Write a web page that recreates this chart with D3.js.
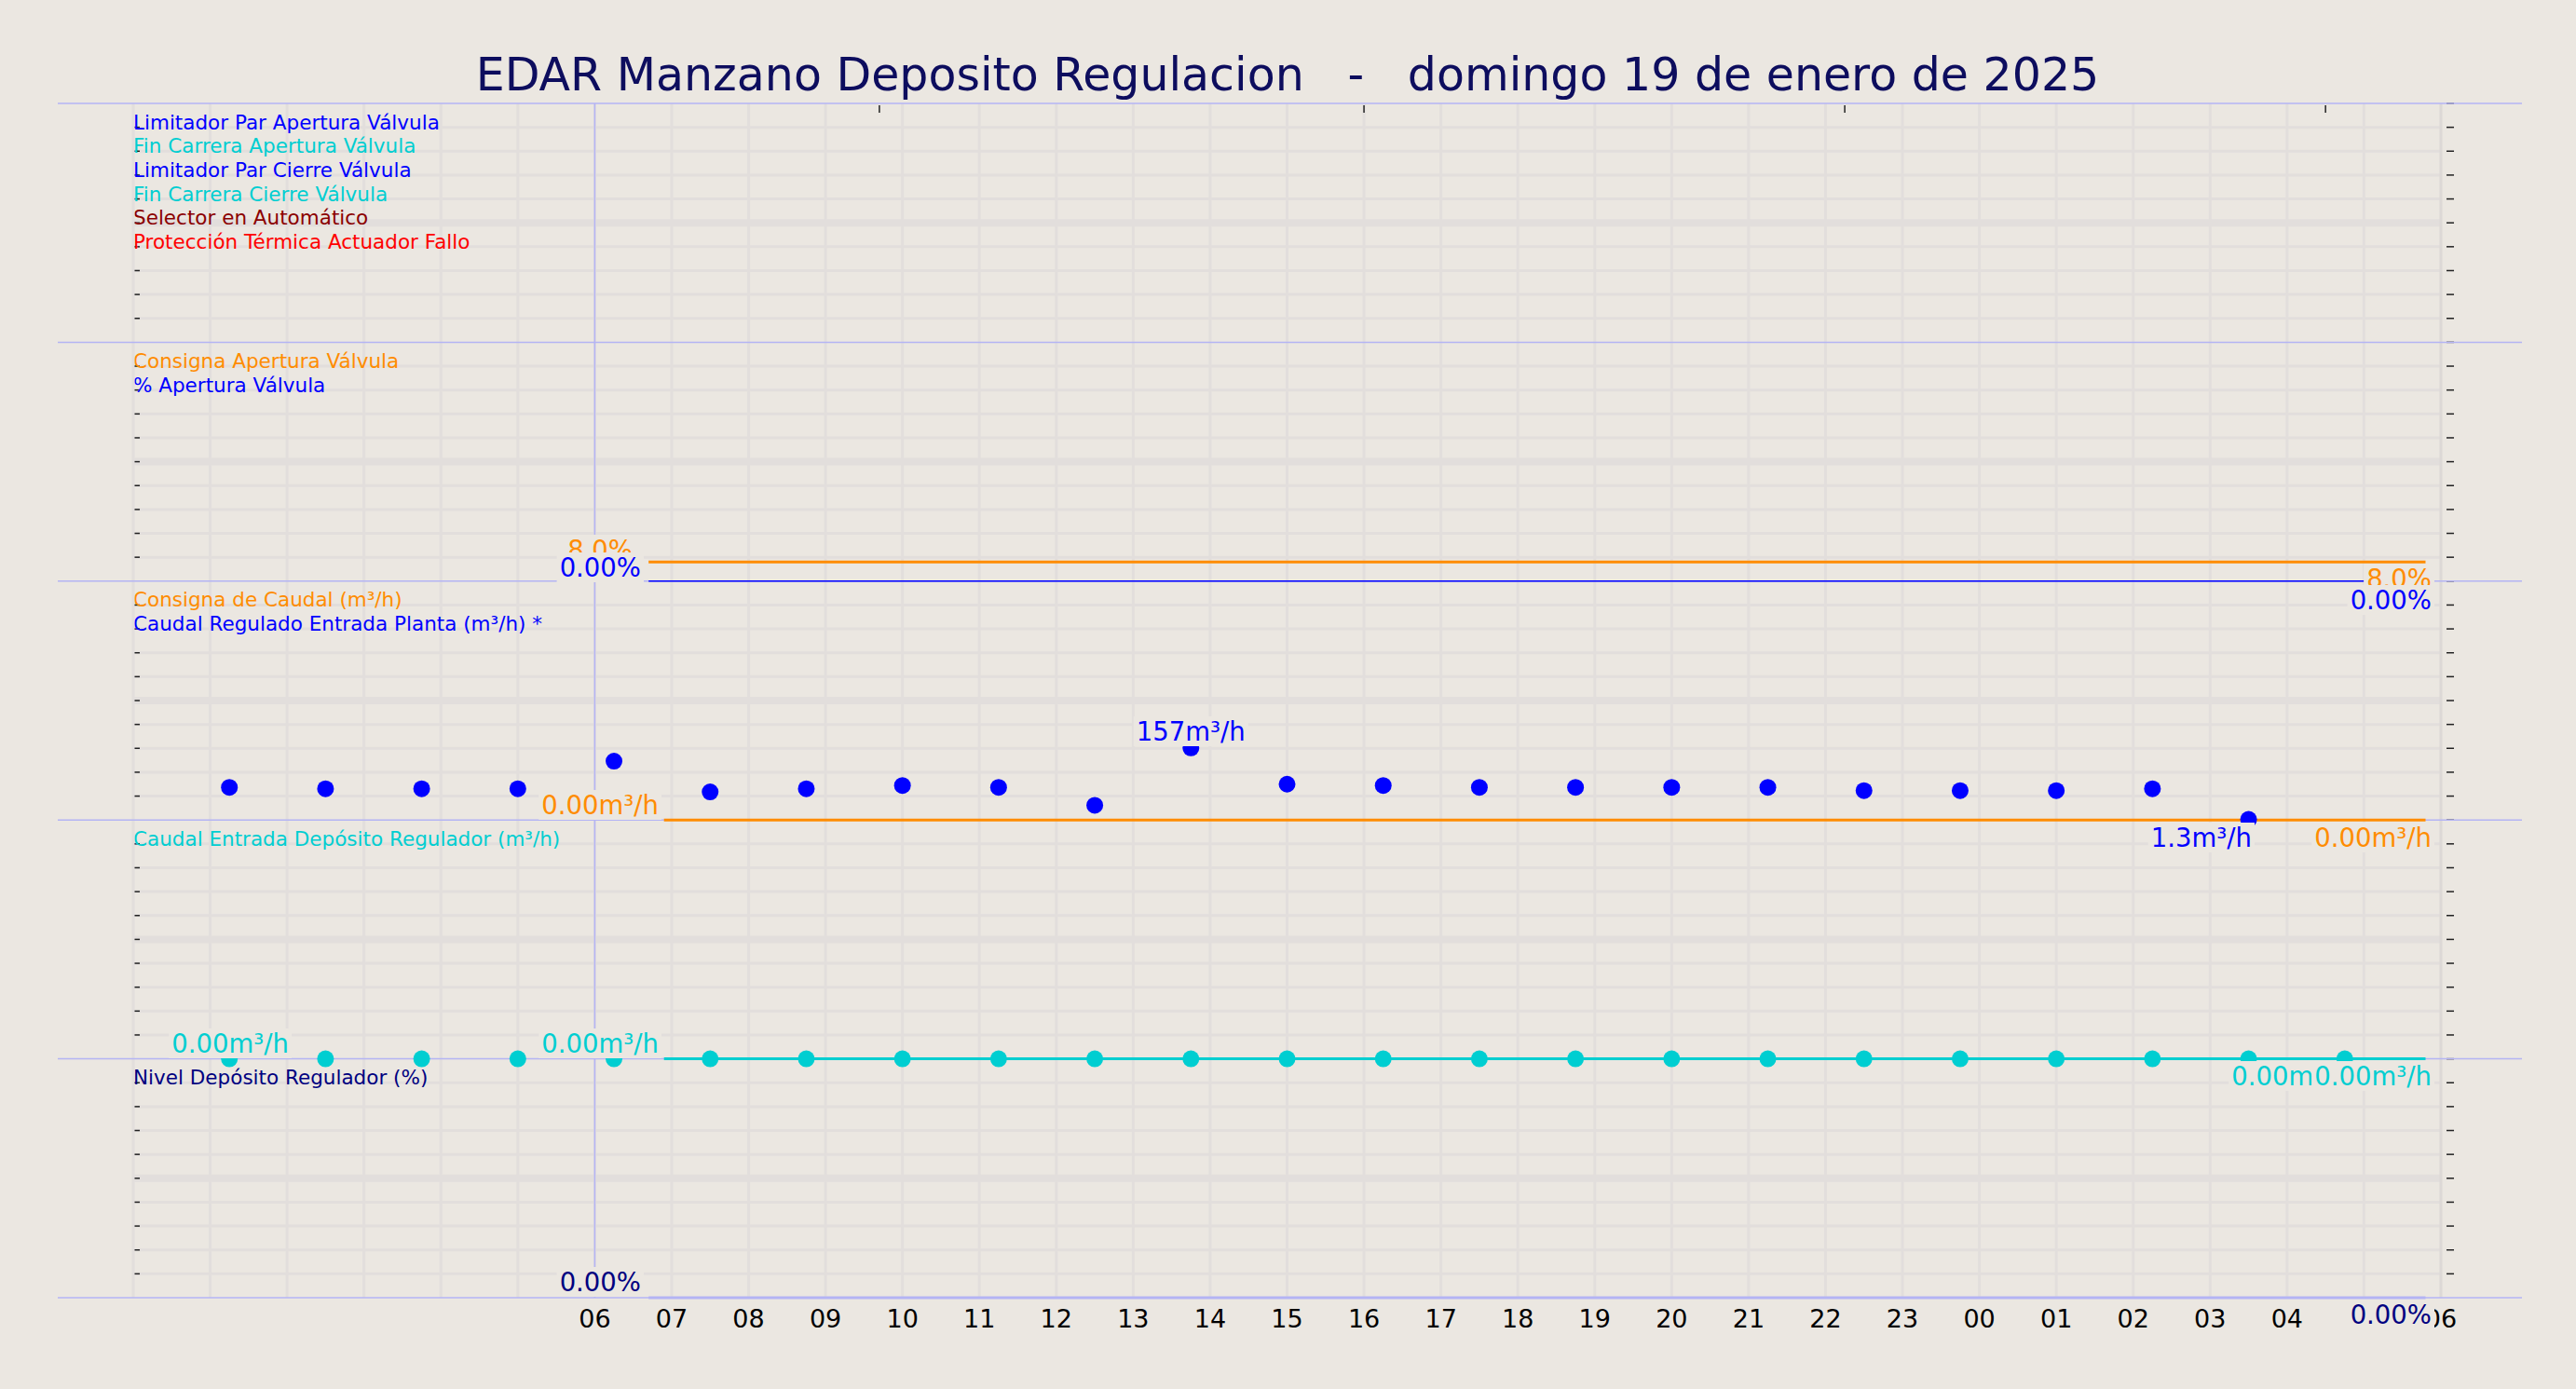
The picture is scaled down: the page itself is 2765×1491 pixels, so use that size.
<!DOCTYPE html>
<html>
<head>
<meta charset="utf-8">
<script src="https://cdn.jsdelivr.net/npm/d3@7"></script>
<style>
  body { margin: 0; background: #ebe7e1; }
  text { font-family: "DejaVu Sans", sans-serif; white-space: pre; }
</style>
</head>
<body>
<script>
// hours since 00:00 of 19 Jan
var pointHours = d3.range(1, 24).map(function(k) { return k * 1.25; });
var caudalRegulado = [71, 68, 68, 68, 128, 61, 68, 75, 71, 32, 157, 78, 75, 71, 71, 71, 71, 64, 64, 64, 68, 1.3];
var caudalDeposito = [0, 0, 0, 0, 0, 0, 0, 0, 0, 0, 0, 0, 0, 0, 0, 0, 0, 0, 0, 0, 0, 0, 0];
var consignaApertura = [[6.7, 8], [29.8, 8]];
var aperturaValvula = [[6.7, 0], [29.8, 0]];
var consignaCaudal = [[6.9, 0], [29.8, 0]];
var depositoLine = [[6.9, 0], [29.8, 0]];
var nivelLine = [[6.7, 0], [29.8, 0]];
var tickHours = d3.range(6, 31);
var topTicks = [9.7, 16, 22.25, 28.5];

var panels = [
  { labels: [["Limitador Par Apertura Válvula", "#0000ff"], ["Fin Carrera Apertura Válvula", "#00ced1"],
             ["Limitador Par Cierre Válvula", "#0000ff"], ["Fin Carrera Cierre Válvula", "#00ced1"],
             ["Selector en Automático", "#8b0000"], ["Protección Térmica Actuador Fallo", "#ff0000"]], max: 1 },
  { labels: [["Consigna Apertura Válvula", "#ff8c00"], ["% Apertura Válvula", "#0000ff"]], max: 100 },
  { labels: [["Consigna de Caudal (m³/h)", "#ff8c00"], ["Caudal Regulado Entrada Planta (m³/h) *", "#0000ff"]], max: 520 },
  { labels: [["Caudal Entrada Depósito Regulador (m³/h)", "#00ced1"]], max: 100 },
  { labels: [["Nivel Depósito Regulador (%)", "#000080"]], max: 100 }
];

var W = 2765, H = 1491, top0 = 111, ph = 256.4, left = 143, right = 2620;
var svg = d3.select("body").append("svg").attr("width", W).attr("height", H);
var x = d3.scaleLinear().domain([0, 30]).range([left, right]);

svg.append("text").attr("x", 1382).attr("y", 97).attr("text-anchor", "middle")
  .attr("font-size", 49).attr("fill", "#0d0d5e").text("EDAR Manzano Deposito Regulacion   -   domingo 19 de enero de 2025");

// vertical grid
svg.selectAll(".vg").data(d3.range(1, 30)).enter().append("line")
  .attr("x1", function(d) { return x(d); }).attr("x2", function(d) { return x(d); })
  .attr("y1", top0).attr("y2", top0 + 5 * ph).attr("stroke", "#e2dedc").attr("stroke-width", 3);

var ys = [];
panels.forEach(function(p, i) {
  var t = top0 + i * ph;
  var y = d3.scaleLinear().domain([0, p.max]).range([t + ph, t]);
  ys.push(y);
  var g = svg.append("g");
  g.selectAll("line.h").data(d3.range(1, 10)).enter().append("line")
    .attr("x1", left).attr("x2", right)
    .attr("y1", function(k) { return t + k * ph / 10; }).attr("y2", function(k) { return t + k * ph / 10; })
    .attr("stroke", "#e2dedc").attr("stroke-width", function(k) { return k == 5 ? 8 : 3; });
  g.selectAll("line.rt").data(d3.range(0, 10)).enter().append("line")
    .attr("x1", right + 6).attr("x2", right + 14)
    .attr("y1", function(k) { return t + k * ph / 10; }).attr("y2", function(k) { return t + k * ph / 10; })
    .attr("stroke", "#222").attr("stroke-width", 1.5);
  g.selectAll("line.lt").data(d3.range(1, 10)).enter().append("line")
    .attr("x1", left).attr("x2", left + 7)
    .attr("y1", function(k) { return t + k * ph / 10; }).attr("y2", function(k) { return t + k * ph / 10; })
    .attr("stroke", "#222").attr("stroke-width", 1.5);
  g.selectAll("text").data(p.labels).enter().append("text")
    .attr("x", left).attr("y", function(d, k) { return t + (k + 1) * ph / 10 + 2; })
    .attr("font-size", 21.5).attr("fill", function(d) { return d[1]; }).text(function(d) { return d[0]; });
});

// frame lines
svg.append("line").attr("x1", left).attr("x2", left).attr("y1", top0).attr("y2", top0 + 5 * ph).attr("stroke", "#e2dedc").attr("stroke-width", 3);
svg.append("line").attr("x1", right).attr("x2", right).attr("y1", top0).attr("y2", top0 + 5 * ph).attr("stroke", "#dcd8d6").attr("stroke-width", 3);
d3.range(0, 6).forEach(function(i) {
  svg.append("line").attr("x1", 62).attr("x2", 2707).attr("y1", top0 + i * ph).attr("y2", top0 + i * ph)
    .attr("stroke", "#b4b4f4").attr("stroke-width", 1.5);
});
svg.append("line").attr("x1", x(6)).attr("x2", x(6)).attr("y1", top0).attr("y2", top0 + 5 * ph)
  .attr("stroke", "#b4b4f4").attr("stroke-width", 1.5);
svg.selectAll(".tt").data(topTicks).enter().append("line")
  .attr("x1", function(d) { return x(d); }).attr("x2", function(d) { return x(d); })
  .attr("y1", top0 + 2).attr("y2", top0 + 10).attr("stroke", "#222").attr("stroke-width", 1.5);

// x tick labels
svg.selectAll(".xl").data(tickHours).enter().append("text")
  .attr("x", function(d) { return x(d); }).attr("y", 1425).attr("text-anchor", "middle")
  .attr("font-size", 27).attr("fill", "#000")
  .text(function(d) { return d3.format("02d")(d % 24); });

var line = d3.line().x(function(d) { return x(d[0]); });
function drawLine(data, y, color, w) {
  svg.append("path").datum(data).attr("fill", "none").attr("stroke", color).attr("stroke-width", w)
    .attr("d", line.y(function(d) { return y(d[1]); }));
}
function label(txt, px, py, color, anchor) {
  var t = svg.append("text").attr("x", px).attr("y", py).attr("text-anchor", anchor || "end")
    .attr("font-size", 27.5).attr("fill", color).text(txt);
  var b = t.node().getBBox();
  svg.insert("rect", function() { return t.node(); })
    .attr("x", b.x - 3).attr("y", b.y).attr("width", b.width + 6).attr("height", b.height).attr("fill", "#ebe7e1");
}

// panel 2
drawLine(consignaApertura, ys[1], "#ff8c00", 3);
drawLine(aperturaValvula, ys[1], "#0000ff", 1.5);
label("8.0%", 679, 600, "#ff8c00");
label("0.00%", 688, 619, "#0000ff");
label("8.0%", 2610, 631, "#ff8c00");
label("0.00%", 2610, 654, "#0000ff");

// panel 3
drawLine(consignaCaudal, ys[2], "#ff8c00", 3);
svg.selectAll(".p3").data(caudalRegulado).enter().append("circle")
  .attr("cx", function(d, k) { return x(pointHours[k]); }).attr("cy", function(d) { return ys[2](d); })
  .attr("r", 9).attr("fill", "#0000ff");
label("0.00m³/h", 707, 874, "#ff8c00");
label("0.00m³/h", 2610, 909, "#ff8c00");
label("157m³/h", x(pointHours[10]), 795, "#0000ff", "middle");
label("1.3m³/h", 2417, 909, "#0000ff");

// panel 4
drawLine(depositoLine, ys[3], "#00ced1", 3);
svg.selectAll(".p4").data(caudalDeposito).enter().append("circle")
  .attr("cx", function(d, k) { return x(pointHours[k]); }).attr("cy", function(d) { return ys[3](d); })
  .attr("r", 9).attr("fill", "#00ced1");
label("0.00m³/h", 310, 1130, "#00ced1");
label("0.00m³/h", 707, 1130, "#00ced1");
label("0.00m³/h", 2521, 1165, "#00ced1");
label("0.00m³/h", 2610, 1165, "#00ced1");

// panel 5
drawLine(nivelLine, ys[4], "#b4b4f4", 3);
label("0.00%", 688, 1386, "#000080");
label("0.00%", 2610, 1421, "#000080");
</script>
</body>
</html>
